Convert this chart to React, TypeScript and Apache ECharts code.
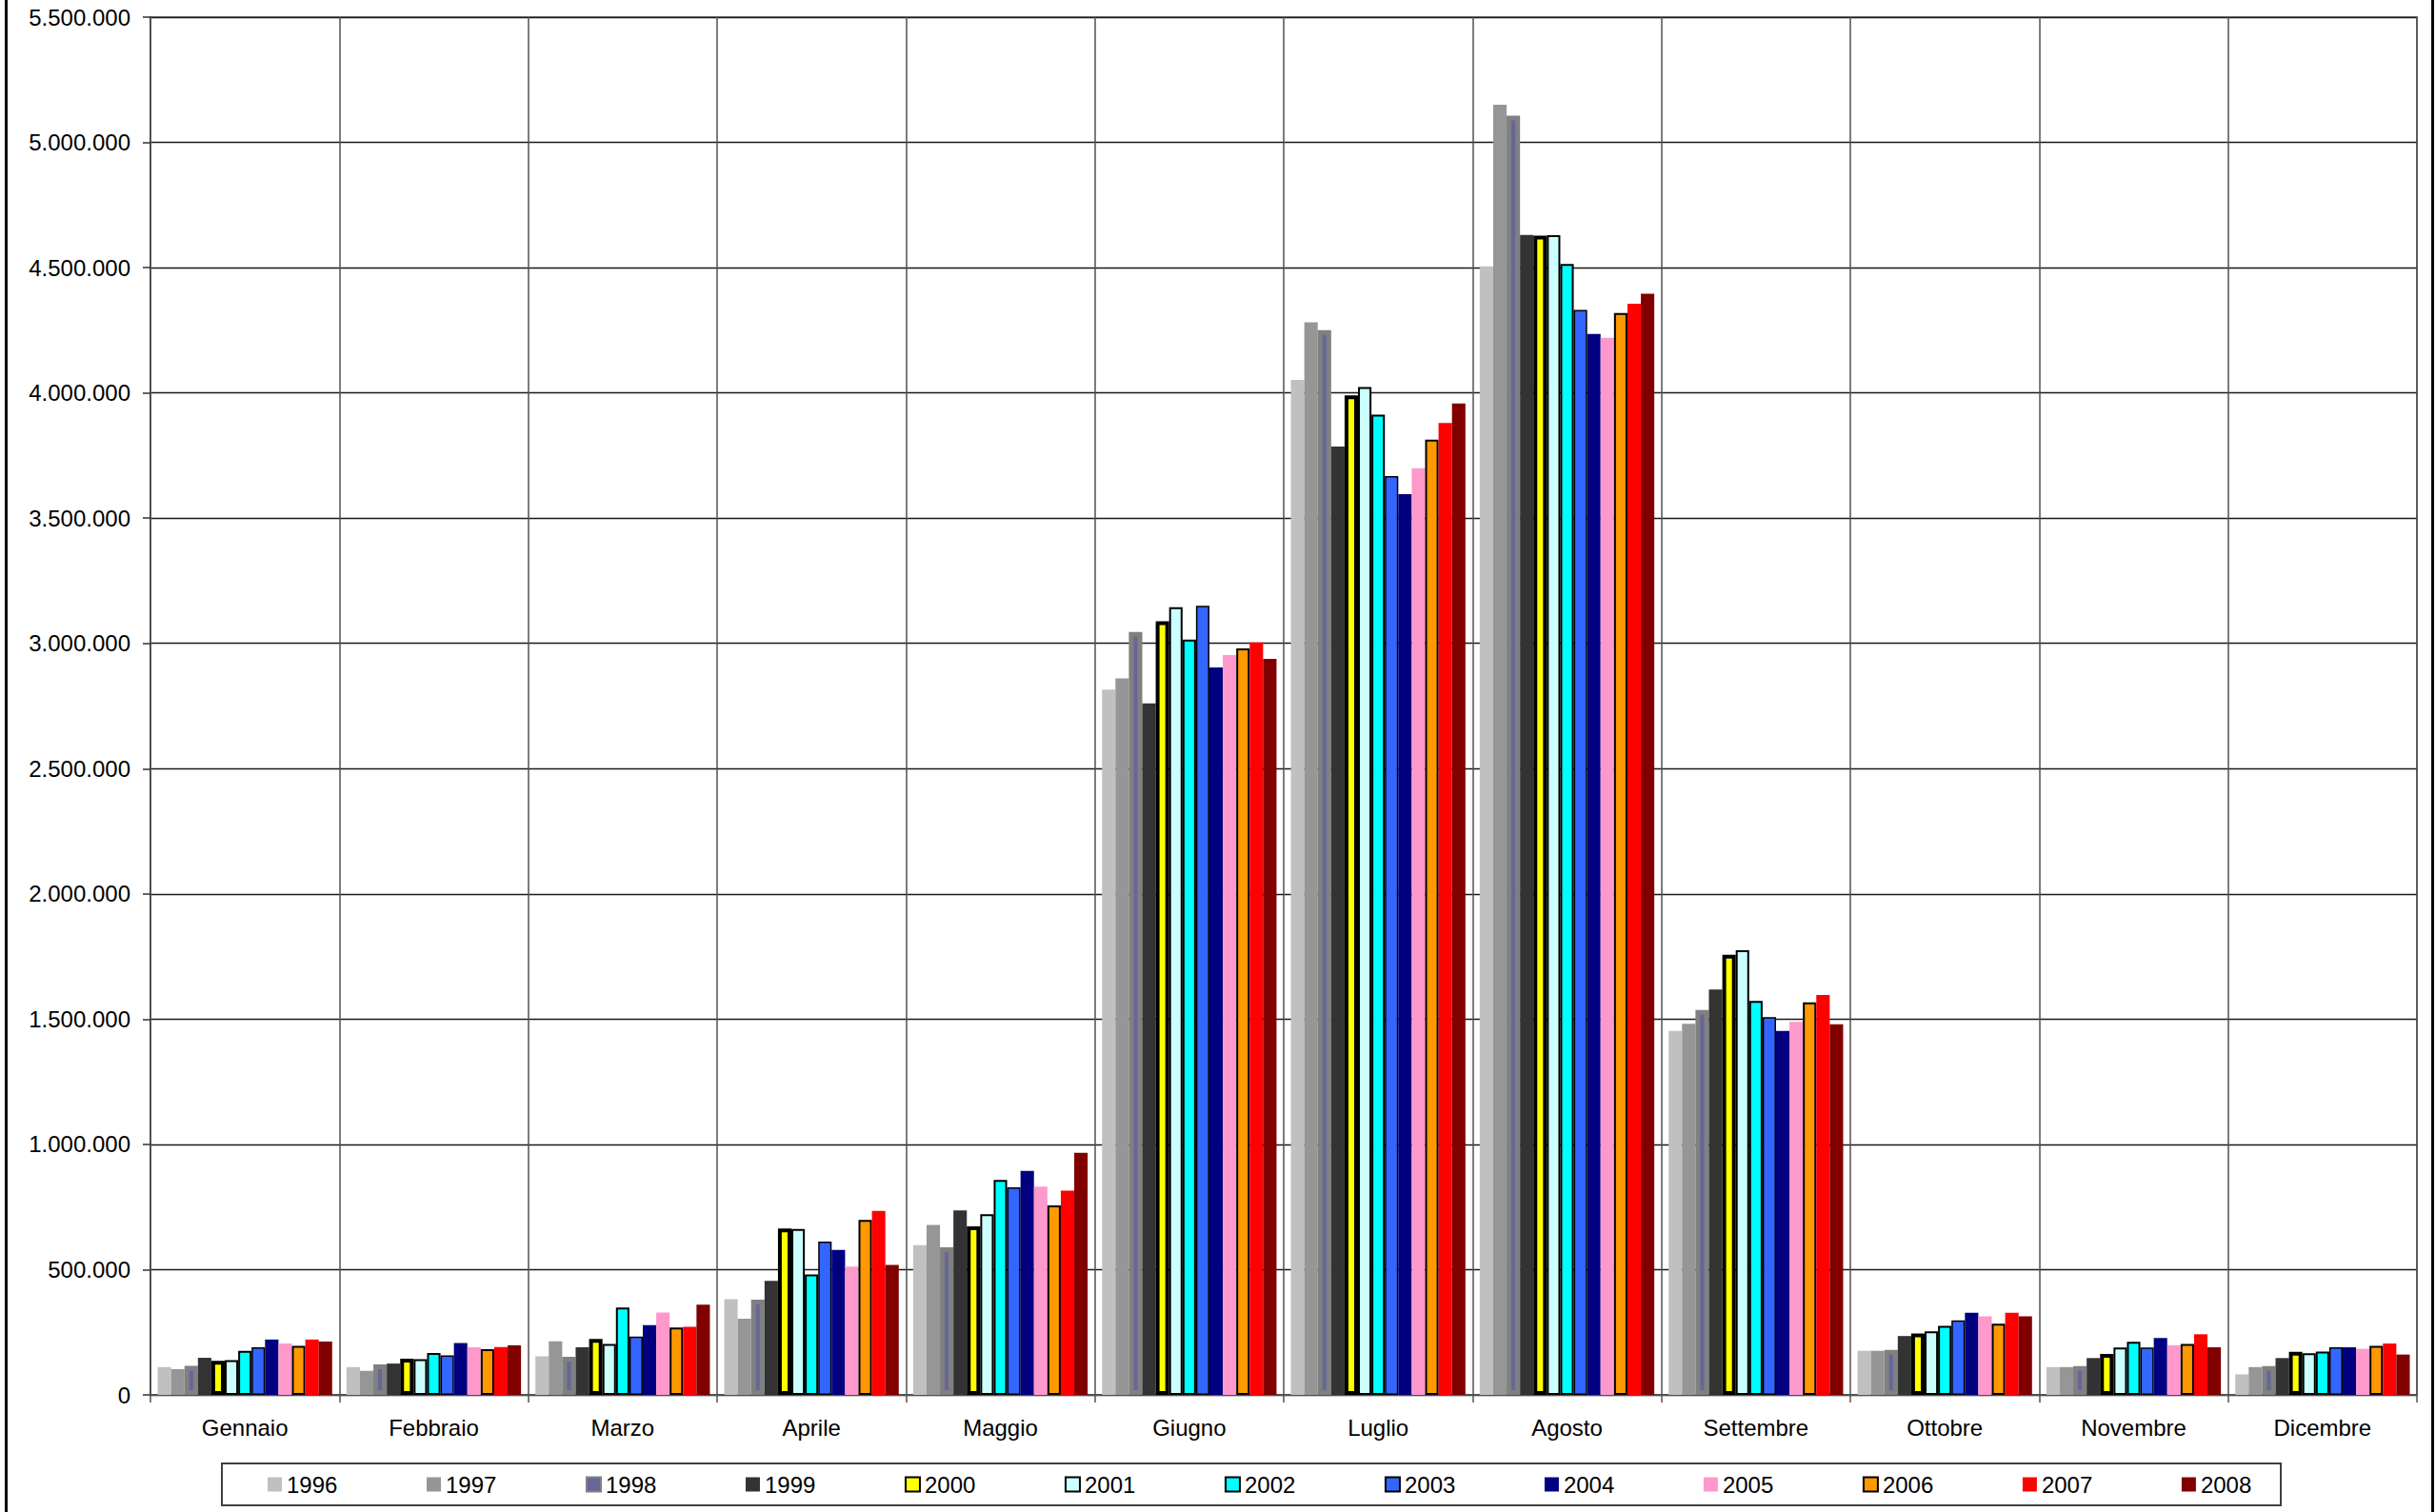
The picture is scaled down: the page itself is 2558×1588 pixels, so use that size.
import React, { useEffect, useRef } from "react";
import * as echarts from "echarts";

const MONTHS = ["Gennaio", "Febbraio", "Marzo", "Aprile", "Maggio", "Giugno", "Luglio", "Agosto", "Settembre", "Ottobre", "Novembre", "Dicembre"];
const YEARS = ["1996", "1997", "1998", "1999", "2000", "2001", "2002", "2003", "2004", "2005", "2006", "2007", "2008"];

const Y1996 = [111000, 111000, 154000, 382000, 598000, 2816000, 4052000, 4505000, 1453000, 176000, 111000, 82000];
const Y1997 = [103000, 96000, 214000, 304000, 678000, 2860000, 4282000, 5150000, 1481000, 176000, 111000, 111000];
const Y1998 = [116000, 122000, 152000, 380000, 589000, 3046000, 4250000, 5107000, 1537000, 180000, 115000, 115000];
const Y1999 = [148000, 125000, 190000, 455000, 736000, 2760000, 3786000, 4631000, 1618000, 235000, 147000, 147000];
const Y2000 = [136000, 144000, 223000, 664000, 673000, 3088000, 3990000, 4628000, 1757000, 245000, 163000, 172000];
const Y2001 = [139000, 143000, 203000, 662000, 721000, 3144000, 4023000, 4630000, 1775000, 254000, 189000, 166000];
const Y2002 = [176000, 167000, 349000, 481000, 858000, 3015000, 3913000, 4515000, 1573000, 276000, 212000, 173000];
const Y2003 = [190000, 158000, 233000, 612000, 829000, 3150000, 3668000, 4331000, 1508000, 297000, 189000, 190000];
const Y2004 = [221000, 207000, 278000, 579000, 894000, 2904000, 3596000, 4235000, 1453000, 328000, 227000, 190000];
const Y2005 = [205000, 190000, 329000, 512000, 831000, 2953000, 3699000, 4220000, 1489000, 314000, 198000, 184000];
const Y2006 = [196000, 182000, 269000, 698000, 756000, 2980000, 3813000, 4319000, 1567000, 284000, 203000, 196000];
const Y2007 = [221000, 191000, 272000, 735000, 815000, 3004000, 3880000, 4356000, 1596000, 328000, 242000, 205000];
const Y2008 = [213000, 198000, 360000, 519000, 966000, 2938000, 3958000, 4396000, 1480000, 314000, 190000, 161000];

const SERIES_DATA = [Y1996, Y1997, Y1998, Y1999, Y2000, Y2001, Y2002, Y2003, Y2004, Y2005, Y2006, Y2007, Y2008];

const Y_MIN = 0;
const Y_MAX = 5500000;
const Y_STEP = 500000;

const FILLS = ["#C0C0C0", "#969696", "#666699", "#333333", "#FFFF00", "#CCFFFF", "#00FFFF", "#3366FF", "#000080", "#FF99CC", "#FF9900", "#FF0000", "#800000"];
const BORDERS = ["#C0C0C0", "#969696", "#808080", "#333333", "#000000", "#000000", "#000000", "#000000", "#000080", "#FF99CC", "#000000", "#FF0000", "#800000"];
const BORDER_W = [0, 0, 5, 0, 4, 2, 2, 1.5, 0, 0, 2, 0, 0];

const FONT = "'Liberation Sans', Arial, sans-serif";

function fmt(v: number): string {
  return String(v).replace(/\B(?=(\d{3})+(?!\d))/g, ".");
}

export default function App() {
  const ref = useRef<HTMLDivElement>(null);

  useEffect(() => {
    if (!ref.current) return;
    const chart = echarts.init(ref.current, undefined, { renderer: "svg" });
    const option: any = {
      animation: false,
      backgroundColor: "#ffffff",
      grid: {
        left: 158,
        right: 20,
        top: 18,
        bottom: 123,
        show: true,
        borderColor: "#808080",
        borderWidth: 2,
        backgroundColor: "transparent",
      },
      legend: {
        show: true,
        left: 281,
        top: 1547,
        padding: 0,
        itemWidth: 15,
        itemHeight: 15,
        itemGap: 93.6,
        icon: "rect",
        textStyle: { fontFamily: FONT, fontSize: 24, color: "#000" },
        data: YEARS,
      },
      xAxis: {
        type: "category",
        data: MONTHS,
        axisLine: { show: true, lineStyle: { color: "#505050", width: 2 } },
        axisTick: { show: true, length: 8, lineStyle: { color: "#505050", width: 1.5 } },
        splitLine: { show: true, interval: 0, lineStyle: { color: "#505050", width: 1.5 } },
        axisLabel: { fontFamily: FONT, fontSize: 24, color: "#000", margin: 22, interval: 0 },
      },
      yAxis: {
        type: "value",
        min: Y_MIN,
        max: Y_MAX,
        interval: Y_STEP,
        axisLine: { show: true, lineStyle: { color: "#505050", width: 2 } },
        axisTick: { show: true, length: 8, lineStyle: { color: "#303030", width: 1.5 } },
        splitLine: { show: true, lineStyle: { color: "#1a1a1a", width: 1.3 } },
        axisLabel: { fontFamily: FONT, fontSize: 24, color: "#000", margin: 21, formatter: (v: number) => fmt(v) },
      },
      series: YEARS.map((y, i) => ({
        name: y,
        type: "bar",
        data: SERIES_DATA[i],
        barGap: "0%",
        barCategoryGap: "7.6%",
        itemStyle: {
          color: FILLS[i],
          borderColor: BORDERS[i],
          borderWidth: BORDER_W[i],
        },
      })),
      graphic: [
        {
          type: "rect",
          shape: { x: 233, y: 1537, width: 2162, height: 44 },
          style: { fill: "none", stroke: "#404040", lineWidth: 2 },
          silent: true,
        },
        {
          type: "rect",
          shape: { x: 6.5, y: -10, width: 2548, height: 1620 },
          style: { fill: "none", stroke: "#000", lineWidth: 3 },
          silent: true,
        },
      ],
    };
    chart.setOption(option);
    return () => chart.dispose();
  }, []);

  return (
    <div
      ref={ref}
      style={{ position: "fixed", left: 0, top: 0, width: 2558, height: 1588, background: "#fff" }}
    />
  );
}
